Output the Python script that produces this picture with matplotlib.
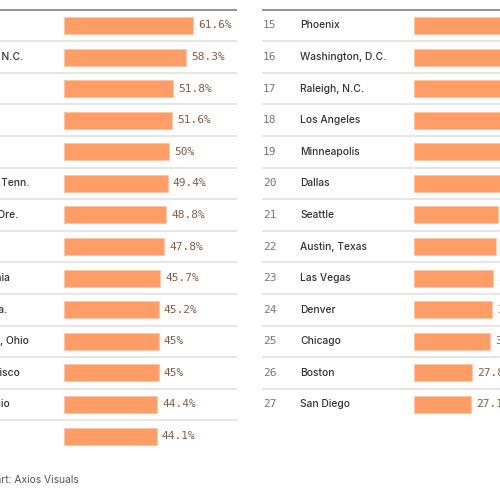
import matplotlib.pyplot as plt

# left table (ranks 1-14), names are cut off by the crop
left_ranks = list(range(1, 15))
left_names = ["Miami", "Charlotte, N.C.", "Houston", "Detroit", "Boise",
              "Nashville, Tenn.", "Portland, Ore.", "Atlanta", "Philadelphia",
              "Tampa, Fla.", "Columbus, Ohio", "San Francisco", "San Antonio",
              "Denver"]
left_values = [61.6, 58.3, 51.8, 51.6, 50, 49.4, 48.8, 47.8, 45.7, 45.2,
               45, 45, 44.4, 44.1]

# right table (ranks 15-27), bars run past the crop
right_ranks = list(range(15, 28))
right_names = ["Phoenix", "Washington, D.C.", "Raleigh, N.C.", "Los Angeles",
               "Minneapolis", "Dallas", "Seattle", "Austin, Texas",
               "Las Vegas", "Denver", "Chicago", "Boston", "San Diego"]
right_values = [44.0, 43.4, 42.9, 42.5, 41.9, 41.4, 40.0, 38.9, 37.8, 37.1,
                36.2, 27.8, 27.1]

W, H = 500, 500
PX = 2.1            # pixels per percentage point
ROW = 31.58         # row height, px
FIRST = 25.5        # centre of first row, px from top
TABLE_W = 325
BAR_OFF = 152       # bar start from table start, px

BAR_COLOR = "#ff9d66"
VAL_COLOR = "#8b5a3c"
NAME_FONT = "Inter"
fig = plt.figure(figsize=(5, 5), dpi=100)
fig.patch.set_facecolor("white")


def draw_table(x0, ranks, names, values):
    ax = fig.add_axes([x0 / W, 0, TABLE_W / W, 1])
    ax.set_xlim(-BAR_OFF / PX, (TABLE_W - BAR_OFF) / PX)
    ax.set_ylim((H - FIRST) / ROW, -FIRST / ROW)
    ax.axis("off")
    ys = list(range(len(values)))
    ax.barh(ys, values, height=17 / ROW, color=BAR_COLOR,
            edgecolor="#ffc4a3", linewidth=0.6)
    xmin, xmax = ax.get_xlim()
    for i, (r, n, v) in enumerate(zip(ranks, names, values)):
        ax.hlines(i - 0.5, xmin, xmax, color="#888888" if i == 0 else "#e2e2e2",
                  lw=1.3 if i == 0 else 1.2, clip_on=False)
        ax.text(xmin + 1 / PX, i, str(r), family="DejaVu Sans Mono",
                fontsize=8, color="#777777", va="center", ha="left")
        ax.text(xmin + 38 / PX, i, n, family=NAME_FONT, fontsize=7.4,
                fontweight="medium", color="#333333", va="center", ha="left")
        label = f"{v:g}%"
        ax.text(v + 5 / PX, i, label, family="DejaVu Sans Mono",
                fontsize=8, color=VAL_COLOR, va="center", ha="left",
                clip_on=False)
    return ax


draw_table(-88, left_ranks, left_names, left_values)
draw_table(262, right_ranks, right_names, right_values)

fig.text(-18 / W, 1 - 480 / H, "Chart: Axios Visuals", family=NAME_FONT,
         fontsize=7.4, color="#555555", va="center", ha="left")

fig.savefig("out.png", dpi=100)
